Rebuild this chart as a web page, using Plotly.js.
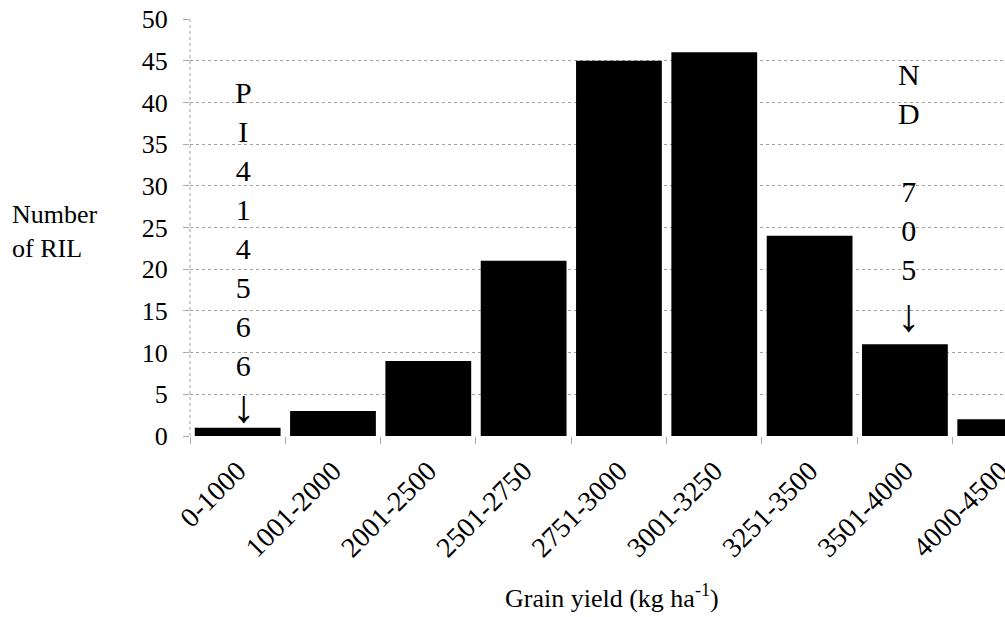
<!DOCTYPE html>
<html>
<head>
<meta charset="utf-8">
<script src="https://cdn.plot.ly/plotly-3.0.1.min.js"></script>
<style>html,body{margin:0;padding:0;background:#fff;}#chart{width:1005px;height:617px;}</style>
</head>
<body>
<div id="chart"></div>
<script>
const categories = ["0-1000","1001-2000","2001-2500","2501-2750","2751-3000","3001-3250","3251-3500","3501-4000","4000-4500"];
const counts = [1, 3, 9, 21, 45, 46, 24, 11, 2];
const yTicks = [0,5,10,15,20,25,30,35,40,45,50];
const leftLabel = ["P","I","4","1","4","5","6","6"];
const rightLabel = ["N","D","&nbsp;","7","0","5"];
const ARROW = "\u2193";

const FONT = "'Liberation Serif', 'Times New Roman', serif";

const trace = {
  type: "bar",
  x: categories,
  y: counts,
  marker: {color: "#000000", line: {width: 0}},
  hoverinfo: "x+y"
};

const layout = {
  width: 1005, height: 617,
  margin: {l: 190, r: 0, t: 19, b: 181},
  paper_bgcolor: "#ffffff",
  plot_bgcolor: "#ffffff",
  showlegend: false,
  bargap: 0.1,
  font: {family: FONT, color: "#000"},
  xaxis: {
    type: "category",
    range: [-0.5, 8.05],
    tickson: "boundaries",
    ticks: "outside",
    ticklen: 7,
    tickcolor: "#aaaaaa",
    tickangle: -45,
    ticklabelstandoff: 12,
    tickfont: {family: FONT, size: 28, color: "#000"},
    showgrid: false,
    zeroline: false,
    showline: false
  },
  yaxis: {
    range: [0, 50],
    tickvals: yTicks,
    ticktext: yTicks.map(String),
    ticks: "outside",
    ticklen: 6,
    tickcolor: "#aaaaaa",
    ticklabelstandoff: 10,
    tickfont: {family: FONT, size: 26, color: "#000"},
    showgrid: true,
    gridcolor: "#a0a0a0",
    griddash: "dot",
    gridwidth: 1,
    zeroline: false,
    showline: false
  },
  shapes: [
    {type: "line", xref: "paper", yref: "paper", x0: 0, x1: 0, y0: 0, y1: 1,
     line: {color: "#a0a0a0", width: 1, dash: "dot"}}
  ],
  annotations: [
    {xref: "paper", yref: "paper", x: -0.166, y: 0.49, xanchor: "center", yanchor: "middle",
     text: "Number<br>of RIL", align: "left", showarrow: false,
     font: {family: FONT, size: 26, color: "#000"}},
    {xref: "paper", yref: "paper", x: 0.518, y: -0.385, xanchor: "center", yanchor: "middle",
     text: "Grain yield (kg ha<sup>-1</sup>)", showarrow: false,
     font: {family: FONT, size: 26, color: "#000"}},
    {xref: "x", yref: "paper", x: categories[0], y: 0.125, xanchor: "center", yanchor: "bottom",
     xshift: 6,
     text: leftLabel.join("<br>"), showarrow: false, align: "center",
     font: {family: FONT, size: 30, color: "#000"}},
    {xref: "x", yref: "paper", x: categories[0], y: 0.07, xanchor: "center", yanchor: "middle",
     xshift: 6,
     text: ARROW, showarrow: false,
     font: {family: FONT, size: 46, color: "#000"}},
    {xref: "x", yref: "paper", x: categories[7], y: 0.355, xanchor: "center", yanchor: "bottom",
     xshift: 4,
     text: rightLabel.join("<br>"), showarrow: false, align: "center",
     font: {family: FONT, size: 30, color: "#000"}},
    {xref: "x", yref: "paper", x: categories[7], y: 0.29, xanchor: "center", yanchor: "middle",
     xshift: 4,
     text: ARROW, showarrow: false,
     font: {family: FONT, size: 46, color: "#000"}}
  ]
};

Plotly.newPlot("chart", [trace], layout, {displayModeBar: false, staticPlot: true});
</script>
</body>
</html>
